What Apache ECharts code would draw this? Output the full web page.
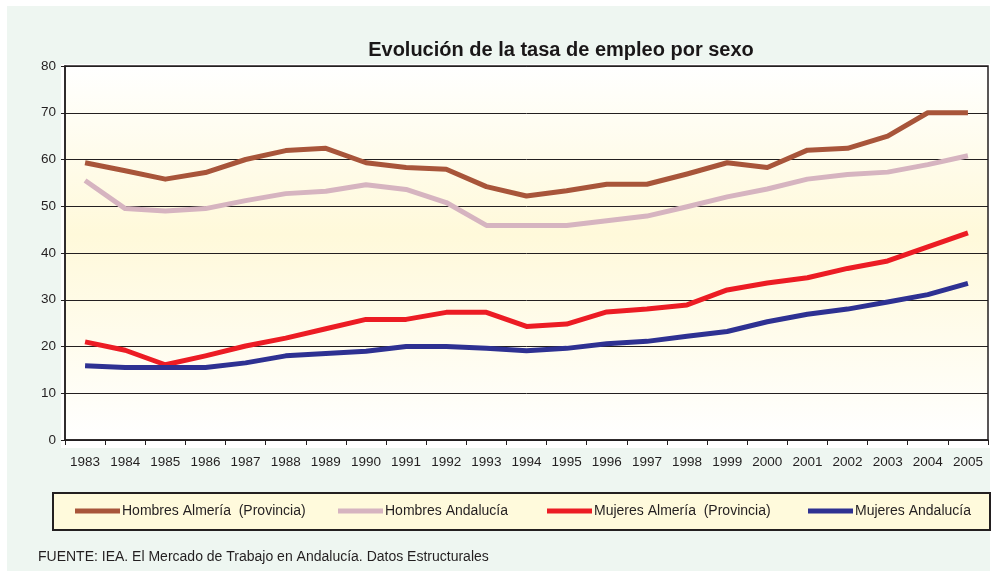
<!DOCTYPE html>
<html>
<head>
<meta charset="utf-8">
<script src="https://cdn.jsdelivr.net/npm/echarts@6/dist/echarts.min.js"></script>
<style>
  html, body { margin: 0; padding: 0; background: #fff; }
  #chart { width: 1000px; height: 571px; }
</style>
</head>
<body>
<div id="chart"></div>
<script>
var years = ["1983", "1984", "1985", "1986", "1987", "1988", "1989", "1990", "1991", "1992", "1993",
  "1994", "1995", "1996", "1997", "1998", "1999", "2000", "2001", "2002", "2003", "2004", "2005"];

var hombresAlmeria = [59.3, 57.6, 55.8, 57.2, 60.0, 61.9, 62.4, 59.3, 58.3, 57.9, 54.2,
  52.2, 53.3, 54.7, 54.7, 56.9, 59.3, 58.3, 62.0, 62.4, 65.0, 70.0, 70.0];
var hombresAndalucia = [55.5, 49.5, 49.0, 49.5, 51.2, 52.7, 53.2, 54.6, 53.6, 50.8, 45.9,
  45.9, 45.9, 46.9, 47.9, 49.9, 52.0, 53.7, 55.8, 56.8, 57.3, 58.9, 60.8];
var mujeresAlmeria = [21.0, 19.2, 16.1, 18.0, 20.1, 21.8, 23.8, 25.8, 25.8, 27.3, 27.3,
  24.3, 24.8, 27.4, 28.0, 28.9, 32.1, 33.6, 34.7, 36.7, 38.3, 41.3, 44.3];
var mujeresAndalucia = [15.9, 15.5, 15.5, 15.5, 16.5, 18.0, 18.5, 19.0, 20.0, 20.0, 19.6,
  19.1, 19.6, 20.6, 21.1, 22.2, 23.2, 25.3, 26.9, 28.0, 29.5, 31.1, 33.5];

var seriesNames = ["Hombres Almería  (Provincia)", "Hombres Andalucía", "Mujeres Almería  (Provincia)", "Mujeres Andalucía"];
var seriesColors = ["#A8553A", "#D6B4C0", "#EC1C24", "#2E3192"];
var seriesData = [hombresAlmeria, hombresAndalucia, mujeresAlmeria, mujeresAndalucia];
var legendLefts = [75, 338, 547, 808];

var font = "'Liberation Sans', Arial, sans-serif";

var chart = echarts.init(document.getElementById("chart"));

var option = {
  backgroundColor: "#fff",
  animation: false,
  textStyle: { fontFamily: font },
  title: {
    text: "Evolución de la tasa de empleo por sexo",
    left: 556,
    top: 35,
    textAlign: "center",
    textStyle: { fontSize: 20, fontWeight: "bold", color: "#1a1718", fontFamily: font }
  },
  graphic: [
    // outer mint panel
    { type: "rect", z: -10, shape: { x: 7, y: 6, width: 983, height: 565 }, style: { fill: "#EEF6F1" } },
    // white strip under plot for the axis area
    { type: "rect", z: -9, shape: { x: 61, y: 64, width: 929, height: 384 }, style: { fill: "#fff" } },
    // legend box
    { type: "rect", z: -5, shape: { x: 53, y: 493, width: 937, height: 37 },
      style: { fill: "#FFFADC", stroke: "#231f20", lineWidth: 2 } },
    { type: "text", left: 38, top: 550,
      style: { text: "FUENTE: IEA. El Mercado de Trabajo en Andalucía. Datos Estructurales",
        fill: "#231f20", font: "14px " + font } }
  ],
  legend: seriesNames.map(function (name, i) {
    return {
      data: [name],
      left: legendLefts[i],
      top: 504,
      padding: 0,
      icon: "rect",
      itemWidth: 45,
      itemHeight: 5,
      textStyle: { fontSize: 14, color: "#231f20", fontFamily: font, padding: [0, 0, 0, -3] }
    };
  }),
  grid: {
    left: 65,
    right: 12,
    top: 66,
    bottom: 131,
    show: true,
    borderColor: "#231f20",
    borderWidth: 1.5,
    backgroundColor: {
      type: "linear", x: 0, y: 0, x2: 0, y2: 1,
      colorStops: [
        { offset: 0, color: "#FFFFFF" },
        { offset: 0.45, color: "#FFF9DA" },
        { offset: 1, color: "#FFFFFF" }
      ]
    }
  },
  xAxis: {
    type: "category",
    data: years,
    boundaryGap: true,
    axisLine: { lineStyle: { color: "#231f20", width: 1.5 } },
    axisTick: { show: true, length: 5, lineStyle: { color: "#231f20" } },
    axisLabel: { fontSize: 13.5, color: "#231f20", margin: 15, interval: 0 }
  },
  yAxis: {
    type: "value",
    min: 0,
    max: 80,
    interval: 10,
    axisLine: { show: true, lineStyle: { color: "#231f20", width: 1.5 } },
    axisTick: { show: true, length: 4, lineStyle: { color: "#231f20" } },
    axisLabel: { fontSize: 13.5, color: "#231f20", margin: 9 },
    splitLine: { lineStyle: { color: "#231f20", width: 1 } }
  },
  series: seriesNames.map(function (name, i) {
    return {
      name: name,
      type: "line",
      data: seriesData[i],
      symbol: "none",
      color: seriesColors[i],
      lineStyle: { width: 5, color: seriesColors[i], cap: "butt", join: "round" },
      z: 2 + (i === 0 ? 1 : 0)
    };
  })
};

chart.setOption(option);
</script>
</body>
</html>
